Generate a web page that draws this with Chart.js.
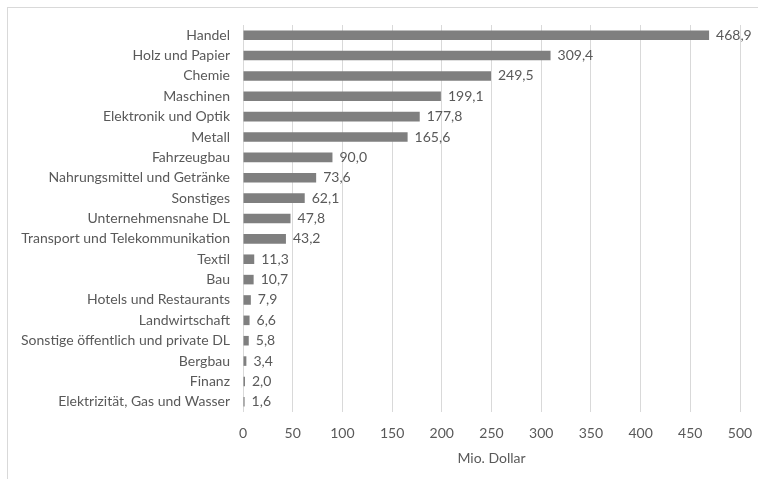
<!DOCTYPE html>
<html>
<head>
<meta charset="utf-8">
<script src="https://cdn.jsdelivr.net/npm/chart.js@4/dist/chart.umd.min.js"></script>
<style>
  html, body { margin: 0; padding: 0; background: #ffffff; }
  #frame {
    position: absolute; left: 7px; top: 7px; width: 751px; height: 472px;
    border-left: 1px solid #d9d9d9; border-top: 1px solid #d9d9d9;
  }
  #wrap { position: absolute; left: 0; top: 0; width: 758px; height: 479px; }
</style>
</head>
<body>
<div id="frame"></div>
<div id="wrap"><canvas id="canvas"></canvas></div>
<script>
// sectors, top to bottom
const sectors = [
  'Handel', 'Holz und Papier', 'Chemie', 'Maschinen', 'Elektronik und Optik',
  'Metall', 'Fahrzeugbau', 'Nahrungsmittel und Getränke', 'Sonstiges',
  'Unternehmensnahe DL', 'Transport und Telekommunikation', 'Textil', 'Bau',
  'Hotels und Restaurants', 'Landwirtschaft', 'Sonstige öffentlich und private DL',
  'Bergbau', 'Finanz', 'Elektrizität, Gas und Wasser'
];
// values in Mio. Dollar
const values = [
  468.9, 309.4, 249.5, 199.1, 177.8,
  165.6, 90.0, 73.6, 62.1,
  47.8, 43.2, 11.3, 10.7,
  7.9, 6.6, 5.8,
  3.4, 2.0, 1.6
];
// x axis
const xMin = 0;
const xMax = 500;
const xStep = 50;
const xTitle = 'Mio. Dollar';

const fontFamily = 'Lato, "Open Sans", sans-serif';
const fontSize = 14;
const textColor = '#595959';

// writes the value next to the end of each bar, with a decimal comma:
const valueLabels = {
  id: 'valueLabels',
  afterDatasetsDraw(chart) {
    const ctx = chart.ctx;
    const meta = chart.getDatasetMeta(0);
    ctx.save();
    ctx.font = fontSize + 'px ' + fontFamily;
    ctx.fillStyle = textColor;
    ctx.textAlign = 'left';
    ctx.textBaseline = 'middle';
    meta.data.forEach((bar, i) => {
      ctx.fillText(values[i].toFixed(1).replace('.', ','), bar.x + 7, bar.y);
    });
    ctx.restore();
  }
};

const canvas = document.getElementById('canvas');
const ctx = canvas.getContext('2d');

const chart = new Chart(ctx, {
  type: 'bar',
  data: {
    labels: sectors,
    datasets: [{
      data: values,
      backgroundColor: '#7f7f7f',
      barPercentage: 0.94,
      categoryPercentage: 0.5
    }]
  },
  options: {
    indexAxis: 'y',
    responsive: true,
    maintainAspectRatio: false,
    animation: false,
    layout: {
      padding: { top: 25, right: 18, bottom: 0, left: 0 }
    },
    plugins: {
      legend: { display: false },
      tooltip: { enabled: false }
    },
    scales: {
      x: {
        min: xMin,
        max: xMax,
        ticks: {
          stepSize: xStep,
          padding: 13,
          color: textColor,
          font: { family: fontFamily, size: fontSize }
        },
        grid: { color: '#d9d9d9', drawTicks: false },
        border: { display: false },
        title: {
          display: true,
          text: xTitle,
          color: textColor,
          font: { family: fontFamily, size: fontSize },
          padding: { top: 0, bottom: 12 }
        },
        afterFit(scale) {
          scale.height = 67;
          scale.paddingRight = 0;
          scale.paddingLeft = 0;
        }
      },
      y: {
        ticks: {
          padding: 13,
          color: textColor,
          autoSkip: false,
          font: { family: fontFamily, size: fontSize }
        },
        grid: { display: false, drawTicks: false },
        border: { display: false },
        afterFit(scale) { scale.width = 243; }
      }
    }
  },
  plugins: [valueLabels]
});
</script>
</body>
</html>
